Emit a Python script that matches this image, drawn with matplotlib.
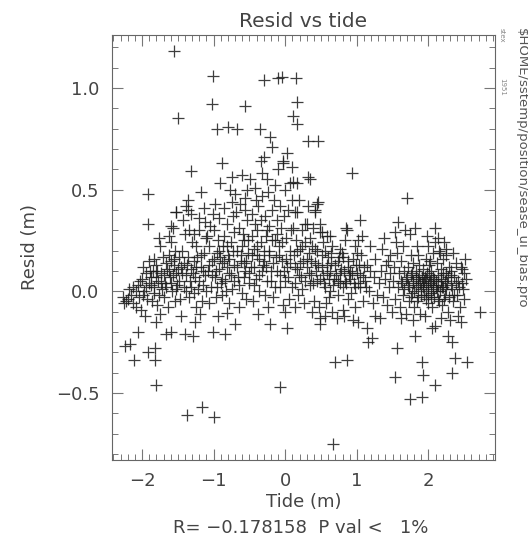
import numpy as np
import matplotlib
matplotlib.use("Agg")
from matplotlib import pyplot as plt
from matplotlib.ticker import MultipleLocator, FuncFormatter

# (tide, resid) pairs, in strips of tide
left_far = [(-2.27, -0.03), (-2.20, -0.04), (-2.13, -0.06), (-2.15, -0.02), (-2.24, -0.27),
            (-2.17, -0.26), (-2.11, -0.34), (-2.06, -0.20), (-2.22, -0.05), (-2.18, 0.01),
            (-2.12, 0.02), (-2.08, -0.08), (-2.25, -0.06),
            (-1.92, 0.48), (-1.92, 0.33), (-1.92, -0.30), (-2.05, 0.03), (-2.00, 0.06),
            (-1.97, 0.00), (-1.95, 0.09), (-1.93, -0.04), (-2.02, -0.09), (-1.98, 0.12),
            (-1.90, 0.04), (-2.04, -0.03), (-1.96, -0.12), (-1.91, 0.15),
            (-1.82, -0.28), (-1.82, -0.34), (-1.81, -0.46), (-1.75, -0.11), (-1.80, -0.15),
            (-1.75, 0.22), (-1.88, 0.07), (-1.85, 0.10), (-1.83, 0.02), (-1.80, 0.13),
            (-1.78, 0.05), (-1.76, -0.02), (-1.73, 0.09), (-1.71, 0.17), (-1.86, -0.05),
            (-1.79, -0.07), (-1.72, 0.01), (-1.84, 0.16), (-1.77, 0.26)]

left_mid = [(-1.55, 1.18), (-1.50, 0.85), (-1.59, 0.32), (-1.57, 0.31), (-1.53, 0.39),
            (-1.52, 0.39), (-1.59, 0.24), (-1.54, 0.20), (-1.66, -0.21), (-1.59, -0.20),
            (-1.68, 0.04), (-1.65, 0.11), (-1.63, 0.18), (-1.61, 0.07), (-1.58, 0.00),
            (-1.56, 0.13), (-1.54, -0.05), (-1.52, 0.09), (-1.64, -0.08), (-1.60, 0.15),
            (-1.51, 0.03), (-1.62, 0.27), (-1.67, 0.14), (-1.55, 0.16),
            (-1.36, 0.45), (-1.38, 0.42), (-1.43, 0.35), (-1.36, 0.40), (-1.31, 0.38),
            (-1.32, 0.59), (-1.37, -0.61), (-1.40, -0.21), (-1.29, -0.22), (-1.26, -0.15),
            (-1.45, -0.12), (-1.48, 0.05), (-1.46, 0.12), (-1.44, 0.20), (-1.42, 0.02),
            (-1.40, 0.28), (-1.38, 0.08), (-1.36, 0.17), (-1.34, -0.03), (-1.32, 0.11),
            (-1.30, 0.24), (-1.47, -0.04), (-1.41, 0.14), (-1.35, 0.30), (-1.33, 0.05),
            (-1.17, 0.49), (-1.12, 0.34), (-1.16, -0.57), (-1.28, 0.15), (-1.26, 0.07),
            (-1.24, 0.22), (-1.22, 0.01), (-1.20, 0.30), (-1.18, 0.12), (-1.16, -0.05),
            (-1.14, 0.19), (-1.12, 0.08), (-1.11, 0.26), (-1.25, -0.08), (-1.21, 0.36),
            (-1.19, -0.11), (-1.13, 0.41), (-1.27, 0.28), (-1.15, 0.03), (-1.23, 0.17)]

center_left = [(-1.01, 1.06), (-1.03, 0.92), (-0.95, 0.80), (-0.98, 0.43), (-1.01, 0.38),
               (-0.91, 0.53), (-0.88, 0.63), (-0.99, -0.62), (-1.01, -0.20), (-0.94, -0.12),
               (-1.08, 0.10), (-1.06, 0.22), (-1.04, 0.02), (-1.02, 0.15), (-1.00, 0.30),
               (-0.98, 0.07), (-0.96, 0.19), (-0.94, 0.25), (-0.92, 0.11), (-0.90, 0.04),
               (-1.07, -0.06), (-1.05, 0.32), (-0.97, -0.03), (-0.93, 0.36), (-0.91, 0.17),
               (-1.09, 0.27),
               (-0.80, 0.81), (-0.75, 0.56), (-0.70, 0.48), (-0.77, 0.50), (-0.73, 0.37),
               (-0.84, -0.21), (-0.70, -0.16), (-0.82, -0.105), (-0.88, 0.14), (-0.86, 0.27),
               (-0.84, 0.05), (-0.82, 0.33), (-0.80, 0.18), (-0.78, 0.09), (-0.76, 0.24),
               (-0.74, 0.01), (-0.72, 0.29), (-0.71, 0.13), (-0.89, -0.02), (-0.85, 0.41),
               (-0.79, -0.06), (-0.75, 0.44), (-0.87, 0.22), (-0.81, 0.12),
               (-0.67, 0.80), (-0.56, 0.91), (-0.61, 0.57), (-0.56, 0.46), (-0.56, 0.40),
               (-0.68, 0.20), (-0.66, 0.07), (-0.64, 0.31), (-0.62, 0.15), (-0.60, -0.01),
               (-0.58, 0.25), (-0.56, 0.10), (-0.54, 0.35), (-0.52, 0.19), (-0.51, 0.04),
               (-0.69, 0.39), (-0.65, -0.08), (-0.63, 0.43), (-0.59, 0.28), (-0.55, -0.04),
               (-0.53, 0.50), (-0.61, 0.22), (-0.57, 0.14)]

center = [(-0.49, 0.55), (-0.42, 0.51), (-0.35, 0.80), (-0.34, 0.64), (-0.30, 0.66),
          (-0.33, 0.58), (-0.34, 0.35), (-0.38, -0.11), (-0.30, 1.04), (-0.48, 0.12),
          (-0.46, 0.27), (-0.44, 0.03), (-0.42, 0.33), (-0.40, 0.18), (-0.38, 0.42),
          (-0.36, 0.08), (-0.34, 0.24), (-0.32, 0.47), (-0.31, 0.13), (-0.47, 0.38),
          (-0.45, -0.05), (-0.43, 0.21), (-0.39, 0.30), (-0.37, 0.00), (-0.41, 0.45),
          (-0.21, 0.76), (-0.19, 0.71), (-0.28, 0.37), (-0.24, 0.49), (-0.19, 0.40),
          (-0.21, -0.16), (-0.24, -0.08), (-0.10, 0.60), (-0.10, 1.05), (-0.29, 0.15),
          (-0.27, 0.27), (-0.25, 0.05), (-0.23, 0.20), (-0.22, 0.32), (-0.20, 0.10),
          (-0.18, 0.25), (-0.16, 0.45), (-0.14, 0.02), (-0.13, 0.17), (-0.12, 0.35),
          (-0.26, 0.55), (-0.17, -0.03), (-0.15, 0.52), (-0.11, 0.28), (-0.28, -0.02),
          (-0.05, 1.055), (-0.03, 0.64), (-0.03, 0.63), (-0.07, 0.42), (-0.07, -0.47),
          (-0.03, -0.07), (0.02, -0.18), (0.07, 0.53), (0.09, 0.45), (0.09, 0.61),
          (-0.09, 0.22), (-0.08, 0.08), (-0.06, 0.31), (-0.04, 0.15), (-0.02, 0.37),
          (0.00, 0.05), (0.01, 0.26), (0.03, 0.12), (0.04, 0.40), (0.05, -0.04),
          (0.06, 0.20), (0.08, 0.30), (-0.01, 0.50), (0.00, -0.10), (0.02, 0.68),
          (0.15, 1.05), (0.16, 0.93), (0.11, 0.86), (0.16, 0.82), (0.11, 0.535),
          (0.16, 0.53), (0.16, 0.39), (0.14, 0.39), (0.11, 0.31), (0.14, -0.08),
          (0.27, 0.33), (0.30, 0.33), (0.12, 0.18), (0.13, 0.04), (0.15, 0.25),
          (0.17, 0.11), (0.18, -0.02), (0.20, 0.21), (0.22, 0.07), (0.23, 0.30),
          (0.25, 0.15), (0.26, -0.06), (0.28, 0.24), (0.19, 0.45), (0.24, 0.01)]

center_right = [(0.32, 0.74), (0.46, 0.74), (0.32, 0.56), (0.35, 0.55), (0.32, 0.42),
                (0.46, 0.44), (0.42, 0.40), (0.44, 0.43), (0.41, 0.39), (0.48, 0.33),
                (0.48, 0.29), (0.35, 0.26), (0.48, -0.13), (0.48, -0.16), (0.31, 0.12),
                (0.33, 0.19), (0.34, 0.03), (0.36, 0.08), (0.38, 0.22), (0.40, -0.05),
                (0.42, 0.14), (0.44, 0.05), (0.45, 0.20), (0.47, -0.08), (0.39, 0.31),
                (0.37, -0.10),
                (0.62, 0.27), (0.51, 0.29), (0.58, 0.27), (0.67, -0.75), (0.69, -0.35),
                (0.52, 0.12), (0.54, 0.04), (0.55, 0.20), (0.57, -0.06), (0.59, 0.09),
                (0.60, 0.17), (0.62, 0.00), (0.63, 0.10), (0.65, -0.10), (0.66, 0.22),
                (0.68, 0.06), (0.56, -0.12), (0.64, 0.14), (0.53, 0.24), (0.61, -0.03),
                (0.86, -0.34), (0.85, 0.31), (0.86, 0.30), (0.76, 0.21), (0.71, 0.08),
                (0.73, 0.15), (0.74, -0.02), (0.76, 0.04), (0.78, 0.11), (0.80, -0.09),
                (0.81, 0.17), (0.83, 0.05), (0.84, 0.25), (0.87, 0.12), (0.88, -0.04),
                (0.89, 0.08), (0.72, -0.13), (0.79, 0.19), (0.82, -0.12),
                (0.93, 0.58), (1.04, 0.35), (1.02, 0.25), (1.00, 0.19), (1.02, -0.15),
                (0.91, 0.10), (0.92, -0.01), (0.94, 0.16), (0.96, 0.04), (0.97, 0.22),
                (0.98, -0.08), (1.00, 0.09), (1.03, 0.13), (1.05, 0.02), (1.06, 0.18),
                (1.08, -0.05), (1.09, 0.07), (0.95, -0.14), (1.07, 0.27),
                (1.21, -0.23), (1.16, -0.25), (1.14, -0.18), (1.12, 0.05), (1.14, 0.13),
                (1.17, 0.00), (1.19, 0.10), (1.22, -0.06), (1.24, 0.07), (1.26, 0.16),
                (1.28, -0.02), (1.18, 0.22), (1.25, -0.12)]

right = [(1.32, -0.13), (1.35, 0.21), (1.44, 0.15), (1.31, 0.04), (1.34, 0.10),
         (1.37, -0.03), (1.39, 0.06), (1.41, 0.13), (1.42, -0.07), (1.45, 0.02),
         (1.47, 0.09), (1.49, -0.10), (1.38, 0.26), (1.46, 0.18),
         (1.58, 0.34), (1.53, 0.29), (1.67, 0.30), (1.70, 0.46), (1.53, -0.42),
         (1.56, -0.28), (1.51, 0.05), (1.52, 0.12), (1.54, -0.04), (1.56, 0.19),
         (1.57, 0.02), (1.59, 0.09), (1.60, -0.08), (1.62, 0.15), (1.63, 0.04),
         (1.64, 0.22), (1.65, -0.02), (1.66, 0.10), (1.68, 0.06), (1.69, -0.11),
         (1.55, 0.24), (1.61, -0.13),
         (1.74, -0.53), (1.81, -0.22), (1.71, 0.03), (1.72, 0.12), (1.73, -0.05),
         (1.75, 0.08), (1.76, 0.18), (1.77, -0.01), (1.78, 0.05), (1.79, 0.14),
         (1.80, -0.08), (1.82, 0.02), (1.83, 0.10), (1.84, 0.22), (1.85, -0.03),
         (1.86, 0.06), (1.87, 0.13), (1.88, -0.11), (1.89, 0.01), (1.74, 0.28),
         (1.81, 0.31), (1.78, -0.14), (1.86, 0.18),
         (1.91, -0.52), (1.91, -0.35), (1.93, -0.41), (2.09, -0.46), (2.05, -0.18),
         (2.09, -0.17), (2.09, 0.31), (2.09, 0.24), (1.92, 0.04), (1.93, 0.11),
         (1.94, -0.02), (1.95, 0.07), (1.96, 0.16), (1.97, 0.00), (1.98, 0.09),
         (1.99, -0.06), (2.00, 0.03), (2.01, 0.13), (2.02, 0.05), (2.03, -0.03),
         (2.04, 0.10), (2.06, 0.01), (2.07, 0.19), (2.08, 0.06), (1.95, -0.12),
         (2.00, 0.22), (2.05, -0.08), (1.98, 0.27), (2.02, 0.15),
         (2.28, -0.22), (2.11, 0.02), (2.12, 0.14), (2.13, -0.04), (2.14, 0.08),
         (2.15, 0.20), (2.16, 0.00), (2.17, 0.11), (2.18, 0.05), (2.19, -0.07),
         (2.20, 0.16), (2.21, 0.02), (2.22, 0.24), (2.23, -0.02), (2.24, 0.09),
         (2.25, 0.18), (2.26, 0.04), (2.27, -0.10), (2.29, 0.12), (2.13, 0.26),
         (2.18, -0.13), (2.24, 0.21), (2.16, 0.19),
         (2.33, -0.40), (2.33, -0.25), (2.37, -0.33), (2.54, -0.35), (2.51, 0.16),
         (2.47, 0.11), (2.31, 0.03), (2.32, 0.10), (2.34, -0.05), (2.36, 0.07),
         (2.38, 0.14), (2.40, -0.02), (2.42, 0.05), (2.44, -0.08), (2.45, 0.12),
         (2.48, 0.01), (2.50, -0.04), (2.52, 0.06), (2.35, 0.19), (2.41, -0.12),
         (2.46, -0.15), (2.30, -0.14), (2.72, -0.10)]

# extra points where the crosses pile up into dark bands
core_band = [(-2.09, 0.00), (-2.03, 0.05), (-1.99, -0.02), (-1.94, 0.02), (-1.89, 0.10),
             (-1.87, 0.03), (-1.84, -0.01), (-1.81, 0.07), (-1.79, 0.10), (-1.74, 0.04),
             (-1.70, 0.08), (-1.69, -0.03), (-1.66, 0.02), (-1.62, 0.10), (-1.60, 0.04),
             (-1.57, 0.08), (-1.53, 0.01), (-1.50, 0.11), (-1.49, 0.17), (-1.44, 0.09),
             (-1.39, 0.00), (-1.37, 0.13), (-1.31, 0.02), (-1.29, 0.09), (-1.27, -0.01),
             (-1.24, 0.12), (-1.21, 0.05), (-1.17, 0.18), (-1.15, 0.10), (-1.10, 0.00),
             (-1.06, 0.13), (-1.03, 0.08), (-0.99, 0.16), (-0.97, 0.10), (-0.95, 0.02),
             (-0.92, 0.20), (-0.88, 0.06), (-0.85, 0.15), (-0.83, 0.00), (-0.81, 0.22),
             (-0.78, 0.16), (-0.76, 0.08), (-0.73, 0.20), (-0.71, 0.05), (-0.67, 0.12),
             (-0.64, 0.03), (-0.62, 0.18), (-0.58, 0.07), (-0.55, 0.15), (-0.52, 0.25),
             (-0.50, 0.09), (-0.47, 0.18), (-0.44, 0.12), (-0.41, 0.06), (-0.39, 0.22),
             (-0.36, 0.16), (-0.33, 0.10), (-0.30, 0.20), (-0.27, 0.12), (-0.25, 0.30),
             (-0.22, 0.18), (-0.20, 0.05), (-0.17, 0.14), (-0.14, 0.25), (-0.12, 0.10),
             (-0.09, 0.18), (-0.07, 0.02), (-0.05, 0.24), (-0.02, 0.10), (0.01, 0.16),
             (0.04, 0.07), (0.07, 0.14), (0.10, 0.02), (0.13, 0.12), (0.16, 0.20),
             (0.19, 0.08), (0.21, 0.14), (0.24, 0.22), (0.27, 0.05), (0.30, 0.16),
             (0.33, 0.09), (0.36, 0.15), (0.39, 0.04), (0.41, 0.21), (0.43, 0.10),
             (0.46, 0.13), (0.49, 0.06), (0.51, 0.18), (0.53, 0.08), (0.56, 0.02),
             (0.58, 0.13), (0.61, 0.06), (0.64, 0.19), (0.67, 0.03), (0.70, 0.13),
             (0.73, 0.05), (0.75, 0.17), (0.77, 0.09), (0.80, 0.02), (0.82, 0.10),
             (0.85, 0.04), (0.88, 0.15), (0.90, 0.06), (0.93, 0.09), (0.97, 0.02),
             (0.99, 0.13), (1.01, 0.04), (1.04, 0.08), (1.10, 0.12), (1.13, 0.02)]

core_right = [(1.62, 0.05), (1.66, 0.01), (1.70, 0.07), (1.73, 0.02), (1.75, -0.03),
              (1.77, 0.09), (1.79, 0.04), (1.80, 0.00), (1.82, 0.07), (1.84, -0.05),
              (1.85, 0.03), (1.87, 0.08), (1.88, 0.04), (1.90, -0.02), (1.91, 0.07),
              (1.93, 0.02), (1.94, 0.05), (1.96, -0.04), (1.97, 0.06), (1.99, 0.02),
              (2.00, -0.02), (2.01, 0.08), (2.03, 0.04), (2.04, -0.01), (2.06, 0.07),
              (2.07, 0.03), (2.08, -0.03), (2.10, 0.05), (2.12, 0.00), (2.14, 0.03),
              (2.15, -0.05), (2.17, 0.06), (2.19, 0.02), (2.20, 0.09), (2.22, -0.04),
              (2.23, 0.05), (2.25, 0.01), (2.27, 0.07), (2.29, -0.03), (2.31, 0.08),
              (2.33, 0.01), (2.36, -0.02), (2.39, 0.04), (2.43, 0.02), (2.47, 0.04),
              (2.49, 0.09)]

r_value = -0.178158
p_text = "1%"

pts = np.array(left_far + left_mid + center_left + center + center_right + right
               + core_band + core_right)
tide = pts[:, 0]
resid = pts[:, 1]

fig = plt.figure(figsize=(5.28, 5.42), dpi=100)
ax = fig.add_axes([112/528, 1 - 460/542, (495 - 112)/528, (460 - 35)/542])

ax.plot(tide, resid, '+', color='#1c1c1c', markersize=9, markeredgewidth=0.9, alpha=0.85)

ax.set_xlim(-2.42, 2.93)
ax.set_ylim(-0.83, 1.26)
ax.xaxis.set_major_locator(MultipleLocator(1))
ax.xaxis.set_minor_locator(MultipleLocator(0.1))
ax.yaxis.set_major_locator(MultipleLocator(0.5))
ax.yaxis.set_minor_locator(MultipleLocator(0.1))
ax.tick_params(which='both', direction='in', top=True, right=True,
               colors='#777777', labelcolor='#444444', labelsize=13)
ax.tick_params(which='major', length=8, width=0.8, pad=9)
ax.tick_params(which='minor', length=4, width=0.7)
ax.xaxis.set_major_formatter(FuncFormatter(
    lambda v, p: ("\u2212%d" % abs(round(v))) if v < -0.01 else "%d" % round(v)))
ax.yaxis.set_major_formatter(FuncFormatter(
    lambda v, p: ("\u2212%.1f" % abs(v)) if v < -0.01 else "%.1f" % abs(v)))
for s in ax.spines.values():
    s.set_color('#666666')
    s.set_linewidth(0.8)

ax.set_title("Resid vs tide", fontsize=14.5, color='#444444', pad=6)
ax.set_xlabel("Tide (m)", fontsize=13, color='#444444', labelpad=2)
ax.set_ylabel("Resid (m)", fontsize=13, color='#444444')
ax.yaxis.set_label_coords(-0.19, 0.5)

fig.text(0.57, 1 - 528/542, "R= \u2212%.6f  P val <   %s" % (abs(r_value), p_text),
         ha='center', va='center', fontsize=13, color='#444444')

# file stamp on the right edge
fig.text(521/528, 1 - 28/542, "$HOME/sstemp/position/sease_ui_bias.pro",
         rotation=-90, ha='center', va='top', fontsize=9.5, color='#555555')
fig.text(502/528, 1 - 28/542, "stex", rotation=-90, ha='center', va='top',
         fontsize=5, color='#888888')
fig.text(502/528, 1 - 78/542, "1951", rotation=-90, ha='center', va='top',
         fontsize=5, color='#888888')

fig.savefig("out.png", dpi=100)
